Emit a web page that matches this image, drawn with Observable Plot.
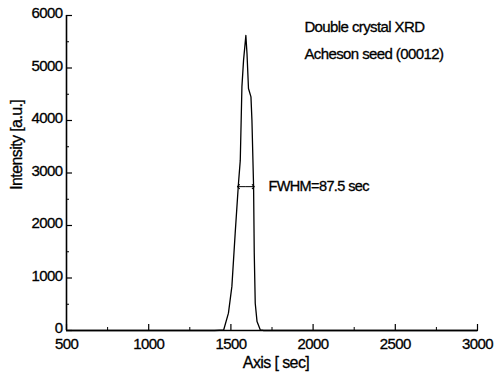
<!DOCTYPE html>
<html>
<head>
<meta charset="utf-8">
<script src="https://cdn.jsdelivr.net/npm/d3@7"></script>
<script src="https://cdn.jsdelivr.net/npm/@observablehq/plot@0.6"></script>
<style>
  html, body { margin: 0; padding: 0; background: #fff; }
  #chart svg { display: block; }
</style>
</head>
<body>
<div id="chart"></div>
<script>
// Data
const angle = [500, 1000, 1400, 1430, 1456, 1485, 1506, 1526, 1546, 1557, 1567, 1577, 1586, 1591, 1598, 1607, 1622, 1628, 1638, 1642, 1648, 1659, 1679, 1700, 2000, 3000];
const intensity = [0, 0, 0, 5, 10, 330, 840, 1850, 2800, 3240, 4640, 5150, 5450, 5620, 5270, 4610, 4450, 4000, 2740, 1480, 520, 170, 10, 0, 0, 0];

const xTicks = [500, 1000, 1500, 2000, 2500, 3000];
const xMinor = [750, 1250, 1750, 2250, 2750];
const yTicks = [0, 1000, 2000, 3000, 4000, 5000, 6000];
const yMinor = [500, 1500, 2500, 3500, 4500, 5500];

const xLabel = "Axis [ sec]";
const yLabel = "Intensity [a.u.]";
const yLabelAt = 2680;

const notes = ["Double crystal XRD", "Acheson seed (00012)"];
const noteX = [1947, 1947];
const noteY = [5780, 5270];

const fwhmLabel = "FWHM=87.5 sec";
const fwhmX1 = 1546, fwhmX2 = 1636, fwhmY = 2740;
const fwhmTextX = 1728;

const series = angle.map((x, i) => ({x, y: intensity[i]}));
const noteData = notes.map((t, i) => ({t, x: noteX[i], y: noteY[i]}));

const W = 495, H = 383;
const mt = 15, mr = 18, mb = 53, ml = 66;
const innerW = W - ml - mr, innerH = H - mt - mb;
const fmt = d3.format("d");

const chart = Plot.plot({
  width: W,
  height: H,
  marginTop: mt,
  marginRight: mr,
  marginBottom: mb,
  marginLeft: ml,
  style: {fontFamily: "'Liberation Sans', Arial, sans-serif", fontSize: "15px", color: "#000", background: "#fff"},
  x: {domain: [500, 3000]},
  y: {domain: [0, 6000]},
  marks: [
    Plot.axisX(xTicks, {tickSize: 0, tickPadding: 8, fontSize: 15, tickFormat: fmt, label: null}),
    Plot.axisY(yTicks, {tickSize: 0, tickPadding: 4, dy: -2, fontSize: 15, tickFormat: fmt, label: null}),
    Plot.tickX(xTicks, {x: d => d, insetTop: innerH - 6, stroke: "#000", strokeWidth: 1.2}),
    Plot.tickX(xMinor, {x: d => d, insetTop: innerH - 3, stroke: "#000", strokeWidth: 1}),
    Plot.tickY(yTicks, {y: d => d, insetRight: innerW - 6, stroke: "#000", strokeWidth: 1.2}),
    Plot.tickY(yMinor, {y: d => d, insetRight: innerW - 3, stroke: "#000", strokeWidth: 1}),
    Plot.ruleY([0], {stroke: "#000", strokeWidth: 1.6}),
    Plot.ruleX([500], {stroke: "#000", strokeWidth: 1.6}),
    Plot.line(series, {x: "x", y: "y", stroke: "#000", strokeWidth: 1.3}),
    Plot.link([{x1: (fwhmX1 + fwhmX2) / 2, x2: fwhmX1, y: fwhmY}, {x1: (fwhmX1 + fwhmX2) / 2, x2: fwhmX2, y: fwhmY}],
      {x1: "x1", x2: "x2", y1: "y", y2: "y", stroke: "#000", strokeWidth: 1, markerEnd: "arrow"}),
    Plot.text([fwhmLabel], {x: fwhmTextX, y: fwhmY, text: d => d, textAnchor: "start", fontSize: 14.5, fill: "#000"}),
    Plot.text(noteData, {x: "x", y: "y", text: "t", textAnchor: "start", fontSize: 15, fill: "#000"}),
    Plot.text([xLabel], {frameAnchor: "bottom", text: d => d, dx: 4, dy: 37, fontSize: 16, fill: "#000"}),
    Plot.text([yLabel], {frameAnchor: "left", y: () => yLabelAt, text: d => d, rotate: -90, dx: -50, fontSize: 16, fill: "#000"})
  ]
});

chart.querySelectorAll("text").forEach(t => {
  t.setAttribute("letter-spacing", "-0.6");
  t.setAttribute("stroke", "#000");
  t.setAttribute("stroke-width", "0.3");
});
document.getElementById("chart").appendChild(chart);
</script>
</body>
</html>
